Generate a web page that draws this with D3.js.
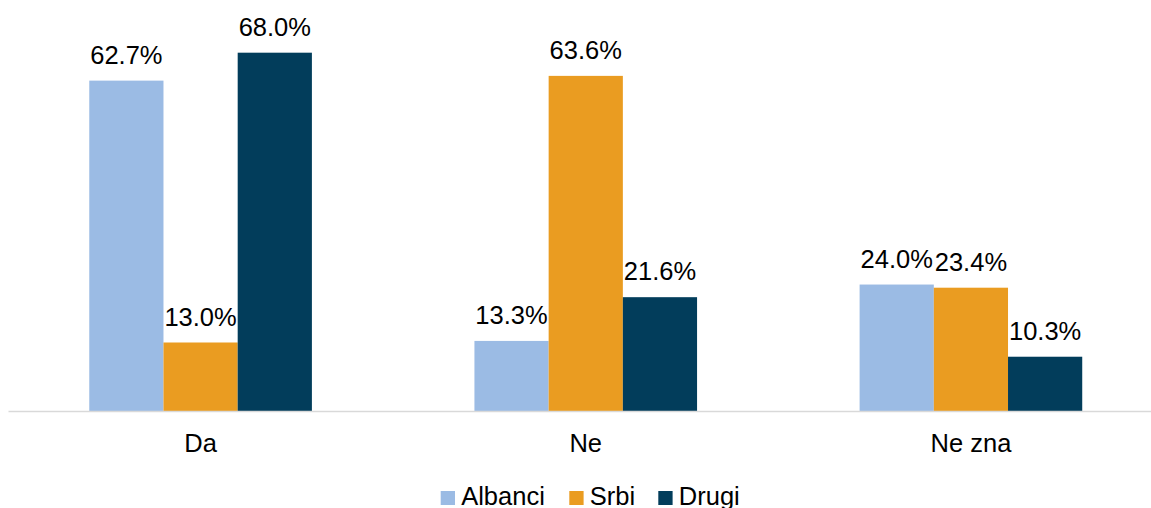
<!DOCTYPE html>
<html>
<head>
<meta charset="utf-8">
<script src="https://cdn.jsdelivr.net/npm/d3@7"></script>
<style>
  html, body { margin: 0; padding: 0; background: #fff; }
  svg { display: block; }
  text { font-family: "Liberation Sans", Arial, sans-serif; fill: #000; }
</style>
</head>
<body>
<div id="chart"></div>
<script>
const categories = ["Da", "Ne", "Ne zna"];
const seriesNames = ["Albanci", "Srbi", "Drugi"];
const albanci = [62.7, 13.3, 24.0];
const srbi = [13.0, 63.6, 23.4];
const drugi = [68.0, 21.6, 10.3];
const colors = ["#9BBBE4", "#EA9C21", "#023D5B"];

const W = 1151, H = 508;
const svg = d3.select("#chart").append("svg").attr("width", W).attr("height", H);

const seriesValues = [albanci, srbi, drugi];
const rows = categories.map((c, i) => ({
  cat: c,
  vals: seriesNames.map((s, j) => ({ series: s, value: seriesValues[j][i], idx: j }))
}));

const x0 = d3.scaleBand().domain(categories).range([8, 1163.5]).paddingInner(0.422).paddingOuter(0.211);
const x1 = d3.scaleBand().domain(seriesNames).range([0, x0.bandwidth()]).padding(0);
const y = d3.scaleLinear().domain([0, 78]).range([411, 0]);

const groups = svg.append("g").selectAll("g").data(rows).join("g")
  .attr("transform", d => `translate(${x0(d.cat)},0)`);

groups.selectAll("rect").data(d => d.vals).join("rect")
  .attr("x", d => x1(d.series))
  .attr("y", d => y(d.value))
  .attr("width", x1.bandwidth())
  .attr("height", d => y(0) - y(d.value))
  .attr("fill", d => colors[d.idx]);

groups.selectAll("text.lbl").data(d => d.vals).join("text")
  .attr("class", "lbl")
  .attr("x", d => x1(d.series) + x1.bandwidth() / 2)
  .attr("y", d => y(d.value) - 17)
  .attr("text-anchor", "middle")
  .style("font-size", "25.5px")
  .text(d => d.value.toFixed(1) + "%");

// axis
const xAxis = d3.axisBottom(x0).tickSize(0).tickPadding(0);
const ax = svg.append("g").attr("transform", `translate(0,${y(0)})`).call(xAxis);
ax.select(".domain").attr("stroke", "#D9D9D9").attr("stroke-width", 1.3);
ax.selectAll(".tick text")
  .attr("y", 0).attr("dy", null)
  .attr("transform", "translate(0,41)")
  .style("font-size", "25.5px")
  .style("font-family", '"Liberation Sans", Arial, sans-serif')
  .attr("fill", "#000");

// legend
const legendX = [440.7, 569.3, 658.3];
const legend = svg.append("g").selectAll("g").data(seriesNames).join("g")
  .attr("transform", (d, i) => `translate(${legendX[i]},0)`);
legend.append("rect").attr("x", 0).attr("y", 491).attr("width", 14.3).attr("height", 14)
  .attr("fill", (d, i) => colors[i]);
legend.append("text").attr("x", 20.5).attr("y", 505)
  .style("font-size", "25.5px")
  .text(d => d);
</script>
</body>
</html>
